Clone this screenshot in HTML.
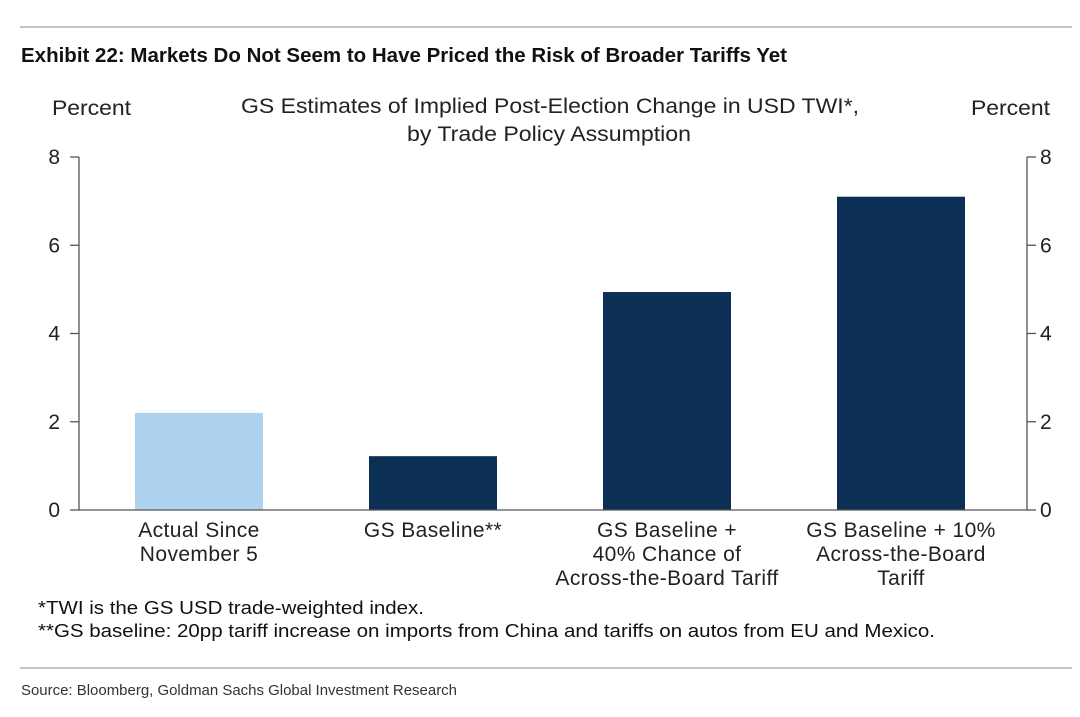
<!DOCTYPE html>
<html><head><meta charset="utf-8"><style>
body{margin:0;background:#fff;width:1080px;height:712px;overflow:hidden;font-family:"Liberation Sans",Arial,sans-serif}
</style></head><body>
<svg width="1080" height="712" xmlns="http://www.w3.org/2000/svg">
<line x1="20" y1="27" x2="1072" y2="27" stroke="#888" stroke-width="1"/>
<text x="21" y="62" font-size="20" font-weight="bold" fill="#111" textLength="766" lengthAdjust="spacingAndGlyphs">Exhibit 22: Markets Do Not Seem to Have Priced the Risk of Broader Tariffs Yet</text>
<text x="52" y="115" font-size="21" fill="#222" textLength="79" lengthAdjust="spacingAndGlyphs">Percent</text>
<text x="971" y="115" font-size="21" fill="#222" textLength="79" lengthAdjust="spacingAndGlyphs">Percent</text>
<text x="241" y="113" font-size="21" fill="#222" textLength="618" lengthAdjust="spacingAndGlyphs">GS Estimates of Implied Post-Election Change in USD TWI*,</text>
<text x="407" y="141" font-size="21" fill="#222" textLength="284" lengthAdjust="spacingAndGlyphs">by Trade Policy Assumption</text>
<g id="plot"></g>
<text x="38" y="614" font-size="18.5" fill="#111" textLength="386" lengthAdjust="spacingAndGlyphs">*TWI is the GS USD trade-weighted index.</text>
<text x="38" y="637" font-size="18.5" fill="#111" textLength="897" lengthAdjust="spacingAndGlyphs">**GS baseline: 20pp tariff increase on imports from China and tariffs on autos from EU and Mexico.</text>
<line x1="20" y1="668" x2="1072" y2="668" stroke="#888" stroke-width="1"/>
<text x="21" y="695" font-size="15" fill="#333" textLength="436" lengthAdjust="spacingAndGlyphs">Source: Bloomberg, Goldman Sachs Global Investment Research</text>
</svg>
<script>
const categories=[["Actual Since","November 5"],["GS Baseline**"],["GS Baseline +","40% Chance of","Across-the-Board Tariff"],["GS Baseline + 10%","Across-the-Board","Tariff"]];
const values=[2.2,1.22,4.94,7.1];
const colors=["#aed3f0","#0b2f55","#0b2f55","#0b2f55"];
const ticks=[0,2,4,6,8];
const NS="http://www.w3.org/2000/svg";
const g=document.getElementById('plot');
const L=79,R=1027,T=157,B=510,yMax=8;
const y=v=>B-(v/yMax)*(B-T);
const band=234, offset=120;
const xc=i=>L+offset+band*i;
const bw=128;
function mk(tag,a){const e=document.createElementNS(NS,tag);for(const k in a)e.setAttribute(k,a[k]);g.appendChild(e);return e;}
values.forEach((v,i)=>{
 const r=mk('rect',{x:xc(i)-bw/2,y:y(v),width:bw,height:B-y(v),fill:colors[i]});
 
 
 categories[i].forEach((ln,j)=>{
  const t=mk('text',{x:xc(i),y:537+j*24,'font-size':21,'letter-spacing':0.4,fill:'#222','text-anchor':'middle'});
  t.textContent=ln;
  
  
 });
});
let a=mk('line',{x1:L,y1:T,x2:L,y2:B,stroke:'#555','stroke-width':1.3});

a=mk('line',{x1:R,y1:T,x2:R,y2:B,stroke:'#555','stroke-width':1.3});

a=mk('line',{x1:L,y1:B,x2:R,y2:B,stroke:'#555','stroke-width':1.3});

ticks.forEach(t=>{
 let l=mk('line',{x1:L-9,y1:y(t),x2:L,y2:y(t),stroke:'#555','stroke-width':1.3});
 
 l=mk('line',{x1:R,y1:y(t),x2:R+9,y2:y(t),stroke:'#555','stroke-width':1.3});
 
 let tx=mk('text',{x:60,y:y(t)+7,'font-size':21,fill:'#222','text-anchor':'end'});tx.textContent=t;
 
 tx=mk('text',{x:1040,y:y(t)+7,'font-size':21,fill:'#222'});tx.textContent=t;
 
});
</script>
</body></html>
